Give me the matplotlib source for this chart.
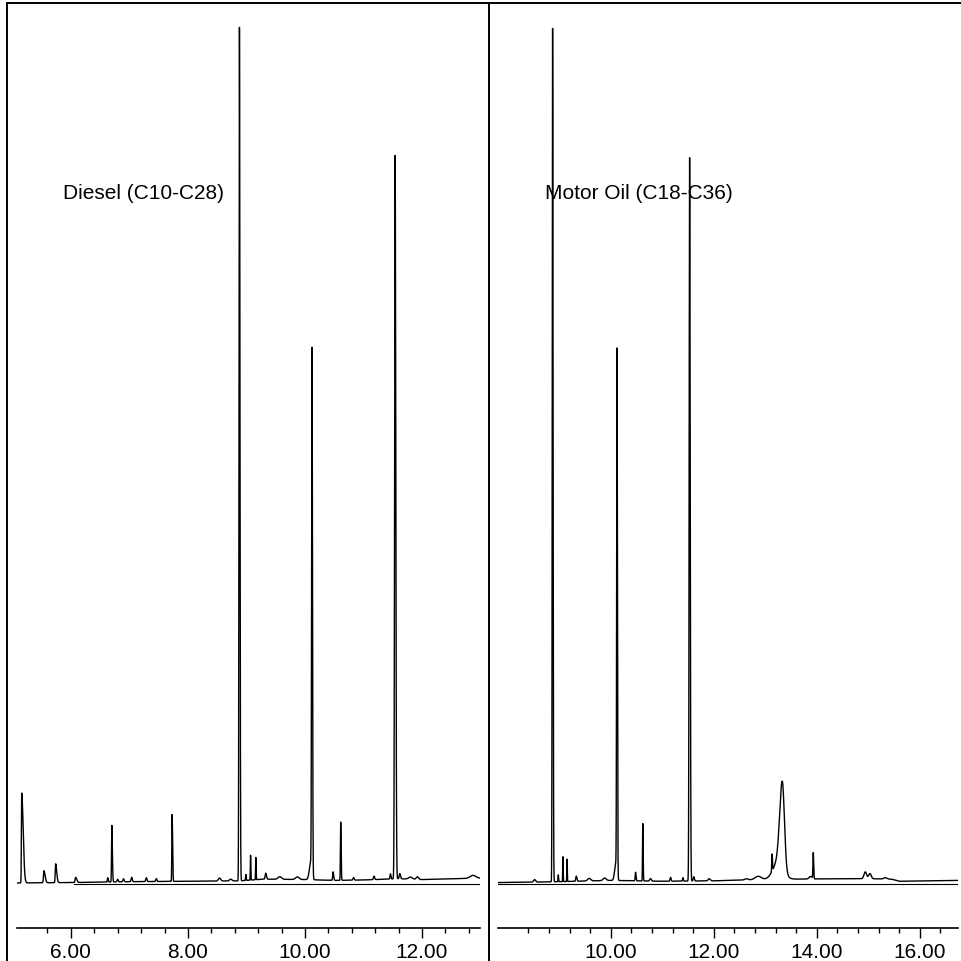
import numpy as np
import matplotlib
matplotlib.use('Agg')
import matplotlib.pyplot as plt
from matplotlib.lines import Line2D
from matplotlib.ticker import FixedLocator, FormatStrFormatter

plt.rcParams['font.family'] = ['Liberation Sans', 'DejaVu Sans']

# Diesel (C10-C28) trace: baseline drift and peak table (time in min, relative abundance)
diesel_range = (5.08, 12.99)
diesel_major_ticks = [6.0, 8.0, 10.0, 12.0]
diesel_minor_first = 5.6
diesel_drift_time = [5.08, 6.0, 7.0, 8.0, 8.9, 9.3, 10.0, 10.5, 11.0, 11.6, 12.0, 12.5, 12.99]
diesel_drift_level = [0.0, 0.05, 0.15, 0.2, 0.25, 0.45, 0.4, 0.3, 0.35, 0.5, 0.4, 0.5, 0.55]
diesel_peak_time = [5.16, 5.54, 5.74, 6.08, 6.63, 6.70, 6.80, 6.90, 7.04, 7.29, 7.46,
                    7.73, 8.54, 8.73, 8.88, 8.99, 9.07, 9.16, 9.33, 9.57, 9.87,
                    10.10, 10.12, 10.48, 10.61, 10.83, 11.18, 11.46, 11.54, 11.62,
                    11.80, 11.92, 12.87]
diesel_peak_height = [10.5, 1.4, 2.2, 0.6, 0.5, 6.6, 0.3, 0.35, 0.5, 0.45, 0.35,
                      7.8, 0.35, 0.2, 99.7, 0.7, 2.9, 2.6, 0.7, 0.3, 0.3,
                      2.0, 61.0, 1.0, 6.8, 0.3, 0.4, 0.6, 84.5, 0.6,
                      0.25, 0.3, 0.35]
diesel_peak_left = [0.005, 0.008, 0.007, 0.008, 0.006, 0.005, 0.01, 0.01, 0.01, 0.01, 0.01,
                    0.005, 0.02, 0.02, 0.007, 0.005, 0.004, 0.004, 0.01, 0.03, 0.03,
                    0.025, 0.007, 0.007, 0.005, 0.01, 0.01, 0.007, 0.009, 0.01,
                    0.03, 0.02, 0.05]
diesel_peak_right = [0.025, 0.02, 0.018, 0.02, 0.008, 0.009, 0.01, 0.01, 0.01, 0.01, 0.01,
                     0.008, 0.02, 0.02, 0.009, 0.006, 0.005, 0.005, 0.012, 0.03, 0.03,
                     0.02, 0.008, 0.01, 0.007, 0.01, 0.01, 0.008, 0.011, 0.012,
                     0.03, 0.02, 0.05]

# Motor Oil (C18-C36) trace
oil_range = (7.81, 16.74)
oil_major_ticks = [10.0, 12.0, 14.0, 16.0]
oil_minor_first = 8.4
oil_drift_time = [7.81, 8.5, 9.0, 10.0, 11.0, 12.0, 12.6, 13.0, 13.6, 14.5, 15.0, 15.45, 15.6, 16.74]
oil_drift_level = [0.05, 0.1, 0.15, 0.3, 0.2, 0.25, 0.35, 0.4, 0.45, 0.5, 0.5, 0.45, 0.2, 0.3]
oil_peak_time = [8.52, 8.87, 8.98, 9.07, 9.15, 9.33, 9.58, 9.88, 10.10, 10.12,
                 10.48, 10.62, 10.77, 11.16, 11.40, 11.53, 11.61, 11.91, 12.63,
                 12.86, 13.13, 13.25, 13.33, 13.88, 13.93, 14.94, 15.03, 15.33]
oil_peak_height = [0.3, 99.7, 0.8, 2.9, 2.6, 0.6, 0.3, 0.3, 2.0, 61.0,
                   1.0, 6.7, 0.3, 0.45, 0.4, 84.5, 0.5, 0.25, 0.15,
                   0.4, 2.0, 2.0, 10.0, 0.3, 3.0, 0.8, 0.6, 0.15]
oil_peak_left = [0.02, 0.007, 0.005, 0.004, 0.004, 0.01, 0.03, 0.03, 0.025, 0.007,
                 0.007, 0.005, 0.015, 0.01, 0.008, 0.009, 0.01, 0.02, 0.03,
                 0.06, 0.006, 0.1, 0.05, 0.03, 0.006, 0.025, 0.025, 0.03]
oil_peak_right = [0.02, 0.009, 0.006, 0.005, 0.005, 0.012, 0.03, 0.03, 0.02, 0.008,
                  0.01, 0.007, 0.015, 0.01, 0.008, 0.011, 0.012, 0.02, 0.03,
                  0.06, 0.007, 0.1, 0.04, 0.03, 0.008, 0.025, 0.025, 0.03]

DPI = 100
W, H = 962, 961


def build_trace(t_range, drift_t, drift_v, rt, height, left, right):
    t = np.arange(t_range[0], t_range[1], 0.001)
    y = np.interp(t, drift_t, drift_v)
    for c, h, sl, sr in zip(rt, height, left, right):
        s = np.where(t < c, sl, sr)
        y = y + h * np.exp(-0.5 * ((t - c) / s) ** 2)
    return t, y


def draw_panel(ax, t_range, major_ticks, minor_first, trace, label, label_x, base_from):
    t, y = trace
    ax.plot(t, y, color='black', lw=1.0)
    ax.plot([base_from, t_range[1]], [-0.1, -0.1], color='black', lw=0.8)
    ax.set_xlim(*t_range)
    ax.set_ylim(-5.26, 102.8)
    ax.set_yticks([])
    for side in ('left', 'right', 'top'):
        ax.spines[side].set_visible(False)
    ax.spines['bottom'].set_linewidth(1.2)
    # minor ticks every 0.4 min
    minor = []
    m = minor_first
    while m < t_range[1]:
        if min(abs(m - mj) for mj in major_ticks) > 1e-6:
            minor.append(m)
        m += 0.4
    ax.xaxis.set_major_locator(FixedLocator(major_ticks))
    ax.xaxis.set_minor_locator(FixedLocator(minor))
    ax.xaxis.set_major_formatter(FormatStrFormatter('%.2f'))
    ax.tick_params(axis='x', which='major', length=7, width=1.0, pad=4, labelsize=15)
    ax.tick_params(axis='x', which='minor', length=3.6, width=1.0)
    ax.text(label_x, 80.6, label, fontsize=15, va='center', ha='left')


fig = plt.figure(figsize=(W / DPI, H / DPI), dpi=DPI)
ax_left = fig.add_axes([17 / W, 1 - 928 / H, 463 / W, 925 / H])
ax_right = fig.add_axes([498 / W, 1 - 928 / H, 460 / W, 925 / H])

draw_panel(ax_left, diesel_range, diesel_major_ticks, diesel_minor_first,
           build_trace(diesel_range, diesel_drift_time, diesel_drift_level,
                       diesel_peak_time, diesel_peak_height,
                       diesel_peak_left, diesel_peak_right),
           'Diesel (C10-C28)', 5.86, 6.05)
draw_panel(ax_right, oil_range, oil_major_ticks, oil_minor_first,
           build_trace(oil_range, oil_drift_time, oil_drift_level,
                       oil_peak_time, oil_peak_height,
                       oil_peak_left, oil_peak_right),
           'Motor Oil (C18-C36)', 8.72, 7.81)

# panel frame: top rule, left edge and divider
x_left, x_mid, y_top = 6.5 / W, 489 / W, 1 - 3 / H
for xs, ys in [([x_left, 1], [y_top, y_top]),
               ([x_left, x_left], [0, y_top]),
               ([x_mid, x_mid], [0, y_top])]:
    fig.add_artist(Line2D(xs, ys, transform=fig.transFigure, color='black', lw=1.4))

fig.savefig('out.png', dpi=DPI)
